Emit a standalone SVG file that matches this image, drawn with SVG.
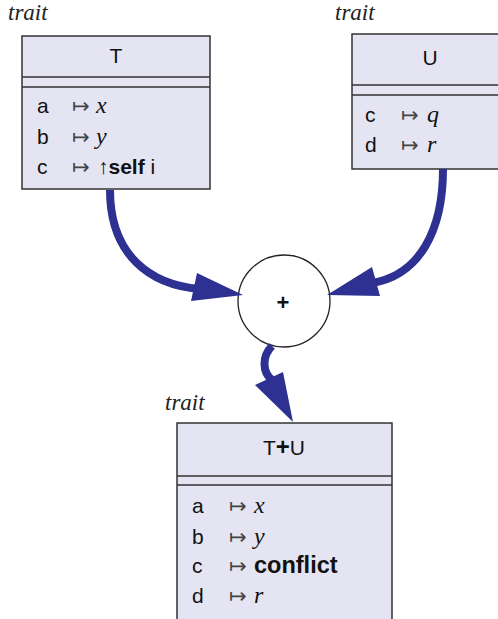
<svg xmlns="http://www.w3.org/2000/svg" width="498" height="619" viewBox="0 0 498 619">
<style>
.box{fill:#e4e4f2;stroke:#333;stroke-width:1.5}
.sep{stroke:#333;stroke-width:1.5}
.lbl{font-family:"Liberation Serif",serif;font-style:italic;font-size:23px;fill:#222}
.hd{font-family:"Liberation Sans",Arial,sans-serif;font-size:21px;fill:#111;text-anchor:middle}
.k{font-family:"Liberation Sans",Arial,sans-serif;font-size:21px;fill:#111}
.m{font-family:"DejaVu Sans",sans-serif;font-size:21px;fill:#444}
.v{font-family:"Liberation Serif",serif;font-style:italic;font-size:24px;fill:#111}
.b{font-family:"Liberation Sans",Arial,sans-serif;font-size:21px;font-weight:bold;fill:#111}
.conn path{fill:none;stroke:#2e3192;stroke-width:8}
.conn polygon{fill:#2e3192}
</style>
<g id="T">
<text class="lbl" x="8" y="20">trait</text>
<rect class="box" x="22" y="36" width="188" height="153"/>
<line class="sep" x1="22" y1="77" x2="210" y2="77"/>
<line class="sep" x1="22" y1="87" x2="210" y2="87"/>
<text class="hd" x="116" y="63">T</text>
<text class="k" x="37" y="113">a</text><text class="m" x="72" y="113">↦</text><text class="v" x="96" y="113">x</text>
<text class="k" x="37" y="143.5">b</text><text class="m" x="72" y="143.5">↦</text><text class="v" x="96" y="143.5">y</text>
<text class="k" x="37" y="174">c</text><text class="m" x="72" y="174">↦</text><text class="k" x="98" y="174">↑<tspan class="b">self</tspan> i</text>
</g>
<g id="U">
<text class="lbl" x="335" y="20">trait</text>
<rect class="box" x="352" y="34" width="160" height="135"/>
<line class="sep" x1="352" y1="85" x2="498" y2="85"/>
<line class="sep" x1="352" y1="95" x2="498" y2="95"/>
<text class="hd" x="430" y="65">U</text>
<text class="k" x="365" y="121.5">c</text><text class="m" x="401" y="121.5">↦</text><text class="v" x="427" y="121.5">q</text>
<text class="k" x="365" y="152">d</text><text class="m" x="401" y="152">↦</text><text class="v" x="427" y="152">r</text>
</g>
<g id="plus">
<circle cx="284" cy="301" r="46" fill="#fff" stroke="#222" stroke-width="1.3"/>
<text x="283" y="310" font-family="Liberation Sans,Arial,sans-serif" font-size="22" font-weight="bold" text-anchor="middle" fill="#111">+</text>
</g>
<g id="TU">
<text class="lbl" x="165" y="410">trait</text>
<rect class="box" x="177" y="423" width="215" height="215"/>
<line class="sep" x1="177" y1="476" x2="392" y2="476"/>
<line class="sep" x1="177" y1="485" x2="392" y2="485"/>
<text class="hd" x="284" y="455">T<tspan font-weight="bold" font-size="24">+</tspan>U</text>
<text class="k" x="192" y="513">a</text><text class="m" x="229" y="513">↦</text><text class="v" x="254" y="513">x</text>
<text class="k" x="192" y="544">b</text><text class="m" x="229" y="544">↦</text><text class="v" x="254" y="544">y</text>
<text class="k" x="192" y="573">c</text><text class="m" x="229" y="573">↦</text><text class="b" x="254" y="573" style="font-size:23.5px">conflict</text>
<text class="k" x="192" y="603">d</text><text class="m" x="229" y="603">↦</text><text class="v" x="254" y="603">r</text>
</g>
<g class="conn" id="connectors">
<path d="M110,190 C110,255 150,285 200,289"/>
<polygon points="197,273 243,295 191,301"/>
<path d="M443,169 C443,230 420,275 372,283"/>
<polygon points="372,267 327,295 380,296"/>
<path d="M272,346 C262,356 262,372 272,380"/>
<polygon points="255,385 283,372 293,422"/>
</g>
</svg>
